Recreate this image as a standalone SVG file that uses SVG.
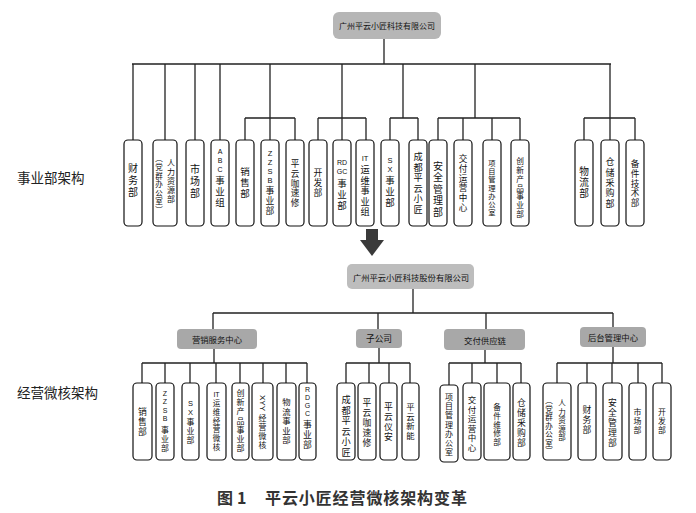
<svg xmlns="http://www.w3.org/2000/svg" width="696" height="513" viewBox="0 0 696 513">
<style>
.bg{fill:#fff}
.box{fill:#fff;stroke:#111;stroke-width:1.2}
.co{fill:#b6b6b6}
.cat{fill:#a8a8a8}
.ln{stroke:#222;stroke-width:1.3;fill:none}
.c{font-family:"Liberation Serif","Noto Sans CJK SC",sans-serif;text-anchor:middle;dominant-baseline:central;font-size:9px;fill:#111}
.lat{font-family:"Liberation Sans",sans-serif;font-size:7px}
.h{font-family:"Noto Sans CJK SC","Noto Sans",sans-serif;text-anchor:middle;dominant-baseline:central;font-size:8.4px;fill:#111}
.lbl{font-family:"Noto Sans CJK SC","Noto Sans",sans-serif;dominant-baseline:central;font-size:13.5px;fill:#222}
.cap{font-family:"Noto Sans CJK SC","Noto Sans",sans-serif;dominant-baseline:central;font-size:16px;font-weight:bold;fill:#333}
</style>
<rect class="bg" x="0" y="0" width="696" height="513"/>

<g id="connectors">
  <path class="ln" d="M384 39V64M132 64H611"/>
  <path class="ln" d="M133 64V140M165 64V140M195 64V140M220 64V140"/>
  <path class="ln" d="M270 64V140M245 118H295M245 118V140M295 118V140"/>
  <path class="ln" d="M342 64V140M318 118H366M318 118V140M366 118V140"/>
  <path class="ln" d="M403 64V118M390 118H418M390 118V140M418 118V140"/>
  <path class="ln" d="M475 64V118M438 118H520M438 118V140M463 118V140M492 118V140M520 118V140"/>
  <path class="ln" d="M610 64V140M584 118H635M584 118V140M635 118V140"/>
  <path class="ln" d="M413 289V313M213 313H613M213 313V329M378 313V329M486 313V329M613 313V327"/>
  <path class="ln" d="M214 349V363M142 363H307M142 363V383M165 363V383M190 363V383M216 363V383M240 363V383M263 363V383M286 363V383M307 363V383"/>
  <path class="ln" d="M379 348V363M346 363H410M346 363V383M369 363V383M389 363V383M410 363V383"/>
  <path class="ln" d="M485 350V363M449 363H521M449 363V385M472 363V383M497 363V383M521 363V383"/>
  <path class="ln" d="M613 347V363M557 363H662M557 363V383M587 363V383M612 363V383M638 363V383M662 363V383"/>
</g>

<g id="arrow">
  <polygon points="366,229 378,229 378,240 384,240 372,256 360,240 366,240" fill="#3a3a3a"/>
</g>

<g id="labels">
  <text class="lbl" x="17" y="177">事业部架构</text>
  <text class="lbl" x="17" y="392">经营微核架构</text>
  <text class="cap" y="497"><tspan x="217">图</tspan> <tspan x="237">1</tspan> <tspan x="265" style="letter-spacing:0.9px">平云小匠经营微核架构变革</tspan></text>
</g>

<g id="company-old">
  <rect class="co" x="333" y="12" width="108" height="27" rx="6"/>
  <text class="h" x="387" y="25.5" style="font-size:8px">广州平云小匠科技有限公司</text>
</g>

<!-- top row -->
<g id="t-caiwu"><rect class="box" x="124" y="140" width="18" height="86" rx="4"/>
<text class="c" style="font-size:10px"><tspan x="133" y="168">财</tspan><tspan x="133" y="180">务</tspan><tspan x="133" y="192">部</tspan></text></g>

<g id="t-renli"><rect class="box" x="153" y="140" width="24" height="86" rx="4"/>
<text class="c" style="font-size:8px"><tspan x="171" y="163">人</tspan><tspan x="171" y="172">力</tspan><tspan x="171" y="181">资</tspan><tspan x="171" y="190">源</tspan><tspan x="171" y="199">部</tspan></text>
<text class="c" style="font-size:7.5px"><tspan x="159" y="158">︵</tspan><tspan x="159" y="167">党</tspan><tspan x="159" y="175.5">群</tspan><tspan x="159" y="184">办</tspan><tspan x="159" y="192.5">公</tspan><tspan x="159" y="201">室</tspan><tspan x="159" y="209.5">︶</tspan></text></g>

<g id="t-shichang"><rect class="box" x="186" y="140" width="18" height="86" rx="4"/>
<text class="c" style="font-size:10px"><tspan x="195" y="169">市</tspan><tspan x="195" y="181">场</tspan><tspan x="195" y="193">部</tspan></text></g>

<g id="t-abc"><rect class="box" x="211" y="140" width="18" height="86" rx="4"/>
<text class="c" style="font-size:9.5px"><tspan class="lat" x="220" y="151">A</tspan><tspan class="lat" x="220" y="160">B</tspan><tspan class="lat" x="220" y="169">C</tspan><tspan x="220" y="181">事</tspan><tspan x="220" y="192">业</tspan><tspan x="220" y="203">组</tspan></text></g>

<g id="t-xiaoshou"><rect class="box" x="236" y="140" width="18" height="86" rx="4"/>
<text class="c" style="font-size:9.5px"><tspan x="245" y="172">销</tspan><tspan x="245" y="183">售</tspan><tspan x="245" y="194">部</tspan></text></g>

<g id="t-zzsb"><rect class="box" x="261" y="140" width="18" height="86" rx="4"/>
<text class="c" style="font-size:8.8px"><tspan class="lat" x="270" y="153" style="font-size:7.5px">Z</tspan><tspan class="lat" x="270" y="162" style="font-size:7.5px">Z</tspan><tspan class="lat" x="270" y="171" style="font-size:7.5px">S</tspan><tspan class="lat" x="270" y="180" style="font-size:7.5px">B</tspan><tspan x="270" y="191">事</tspan><tspan x="270" y="201">业</tspan><tspan x="270" y="211">部</tspan></text></g>

<g id="t-kasuxiu"><rect class="box" x="286" y="140" width="18" height="86" rx="4"/>
<text class="c" style="font-size:8.6px"><tspan x="295" y="164">平</tspan><tspan x="295" y="173.75">云</tspan><tspan x="295" y="183.5">咖</tspan><tspan x="295" y="193.25">速</tspan><tspan x="295" y="203">修</tspan></text></g>

<g id="t-kaifa"><rect class="box" x="309" y="140" width="18" height="86" rx="4"/>
<text class="c" style="font-size:8.8px"><tspan x="318" y="173">开</tspan><tspan x="318" y="183">发</tspan><tspan x="318" y="193">部</tspan></text></g>

<g id="t-rdgc"><rect class="box" x="333" y="140" width="18" height="86" rx="4"/>
<text class="c" style="font-size:9.5px"><tspan class="lat" x="342" y="162">RD</tspan><tspan class="lat" x="342" y="171">GC</tspan><tspan x="342" y="184">事</tspan><tspan x="342" y="195">业</tspan><tspan x="342" y="206">部</tspan></text></g>

<g id="t-it"><rect class="box" x="356" y="140" width="18" height="86" rx="4"/>
<text class="c" style="font-size:9.2px"><tspan class="lat" x="365" y="158" style="font-size:7.5px">IT</tspan><tspan x="365" y="170">运</tspan><tspan x="365" y="180.5">维</tspan><tspan x="365" y="191">事</tspan><tspan x="365" y="201.5">业</tspan><tspan x="365" y="212">组</tspan></text></g>

<g id="t-sx"><rect class="box" x="381" y="140" width="18" height="86" rx="4"/>
<text class="c" style="font-size:9.5px"><tspan class="lat" x="390" y="160" style="font-size:7.5px">S</tspan><tspan class="lat" x="390" y="169" style="font-size:7.5px">X</tspan><tspan x="390" y="181">事</tspan><tspan x="390" y="192">业</tspan><tspan x="390" y="203">部</tspan></text></g>

<g id="t-chengdu"><rect class="box" x="409" y="140" width="18" height="86" rx="4"/>
<text class="c" style="font-size:9.2px"><tspan x="418" y="157">成</tspan><tspan x="418" y="167.5">都</tspan><tspan x="418" y="178">平</tspan><tspan x="418" y="188.5">云</tspan><tspan x="418" y="199">小</tspan><tspan x="418" y="209.5">匠</tspan></text></g>

<g id="t-anquan"><rect class="box" x="429" y="140" width="18" height="86" rx="4"/>
<text class="c" style="font-size:10px"><tspan x="438" y="165.5">安</tspan><tspan x="438" y="177">全</tspan><tspan x="438" y="188.5">管</tspan><tspan x="438" y="200">理</tspan><tspan x="438" y="211.5">部</tspan></text></g>

<g id="t-jiaofu"><rect class="box" x="454" y="140" width="18" height="86" rx="4"/>
<text class="c" style="font-size:8.6px"><tspan x="463" y="159">交</tspan><tspan x="463" y="168.8">付</tspan><tspan x="463" y="178.6">运</tspan><tspan x="463" y="188.4">营</tspan><tspan x="463" y="198.2">中</tspan><tspan x="463" y="208">心</tspan></text></g>

<g id="t-xiangmu"><rect class="box" x="483" y="140" width="18" height="86" rx="4"/>
<text class="c" style="font-size:7.3px"><tspan x="492" y="162.6">项</tspan><tspan x="492" y="170.9">目</tspan><tspan x="492" y="179.2">管</tspan><tspan x="492" y="187.5">理</tspan><tspan x="492" y="195.8">办</tspan><tspan x="492" y="204.1">公</tspan><tspan x="492" y="212.4">室</tspan></text></g>

<g id="t-chuangxin"><rect class="box" x="511" y="140" width="18" height="86" rx="4"/>
<text class="c" style="font-size:7.7px"><tspan x="520" y="161.1">创</tspan><tspan x="520" y="169.9">新</tspan><tspan x="520" y="178.7">产</tspan><tspan x="520" y="187.5">品</tspan><tspan x="520" y="196.3">事</tspan><tspan x="520" y="205.1">业</tspan><tspan x="520" y="213.9">部</tspan></text></g>

<g id="t-wuliu"><rect class="box" x="575" y="140" width="18" height="86" rx="4"/>
<text class="c" style="font-size:9.7px"><tspan x="584" y="171">物</tspan><tspan x="584" y="182">流</tspan><tspan x="584" y="193">部</tspan></text></g>

<g id="t-cangchu"><rect class="box" x="601" y="140" width="18" height="86" rx="4"/>
<text class="c" style="font-size:9px"><tspan x="610" y="162.4">仓</tspan><tspan x="610" y="172.7">储</tspan><tspan x="610" y="183">采</tspan><tspan x="610" y="193.3">购</tspan><tspan x="610" y="203.6">部</tspan></text></g>

<g id="t-beijian"><rect class="box" x="626" y="140" width="18" height="86" rx="4"/>
<text class="c" style="font-size:8.6px"><tspan x="635" y="164">备</tspan><tspan x="635" y="173.75">件</tspan><tspan x="635" y="183.5">技</tspan><tspan x="635" y="193.25">术</tspan><tspan x="635" y="203">部</tspan></text></g>

<!-- bottom company and categories -->
<g id="company-new">
  <rect class="co" x="347" y="264" width="127" height="25" rx="5" style="fill:#bdbdbd"/>
  <text class="h" x="411" y="276.5" style="font-size:8.3px">广州平云小匠科技股份有限公司</text>
</g>
<g id="c-yingxiao"><rect class="cat" x="177" y="329" width="80" height="20" rx="4"/><text class="h" x="217" y="339">营销服务中心</text></g>
<g id="c-zigongsi"><rect class="cat" x="356" y="329" width="46" height="19" rx="4"/><text class="h" x="379" y="338.5" style="font-size:8.7px">子公司</text></g>
<g id="c-jiaofu"><rect class="cat" x="444" y="329" width="81" height="21" rx="4"/><text class="h" x="485" y="339.5">交付供应链</text></g>
<g id="c-houtai"><rect class="cat" x="580" y="327" width="66" height="20" rx="4"/><text class="h" x="613" y="337">后台管理中心</text></g>

<!-- 营销服务中心 -->
<g id="b-xiaoshou"><rect class="box" x="133" y="383" width="19" height="77" rx="4"/>
<text class="c" style="font-size:8.8px"><tspan x="142.5" y="412">销</tspan><tspan x="142.5" y="422">售</tspan><tspan x="142.5" y="432">部</tspan></text></g>

<g id="b-zzsb"><rect class="box" x="156" y="383" width="18" height="77" rx="4"/>
<text class="c" style="font-size:7.9px"><tspan class="lat" x="165" y="393">Z</tspan><tspan class="lat" x="165" y="401.3">Z</tspan><tspan class="lat" x="165" y="409.6">S</tspan><tspan class="lat" x="165" y="418">B</tspan><tspan x="165" y="430">事</tspan><tspan x="165" y="439">业</tspan><tspan x="165" y="448">部</tspan></text></g>

<g id="b-sx"><rect class="box" x="182" y="383" width="17" height="77" rx="4"/>
<text class="c" style="font-size:7.9px"><tspan class="lat" x="190.5" y="403" style="font-size:7.5px">S</tspan><tspan class="lat" x="190.5" y="412" style="font-size:7.5px">X</tspan><tspan x="190.5" y="422">事</tspan><tspan x="190.5" y="431">业</tspan><tspan x="190.5" y="440">部</tspan></text></g>

<g id="b-it"><rect class="box" x="207" y="383" width="19" height="77" rx="4"/>
<text class="c" style="font-size:7.5px"><tspan class="lat" x="216.5" y="394">IT</tspan><tspan x="216.5" y="403">运</tspan><tspan x="216.5" y="411.8">维</tspan><tspan x="216.5" y="420.6">经</tspan><tspan x="216.5" y="429.4">营</tspan><tspan x="216.5" y="438.2">微</tspan><tspan x="216.5" y="447">核</tspan></text></g>

<g id="b-chuangxin"><rect class="box" x="232" y="383" width="17" height="77" rx="4"/>
<text class="c" style="font-size:8px"><tspan x="240.5" y="393">创</tspan><tspan x="240.5" y="402.2">新</tspan><tspan x="240.5" y="411.3">产</tspan><tspan x="240.5" y="420.5">品</tspan><tspan x="240.5" y="429.7">事</tspan><tspan x="240.5" y="438.8">业</tspan><tspan x="240.5" y="448">部</tspan></text></g>

<g id="b-xyy"><rect class="box" x="252" y="383" width="21" height="77" rx="4"/>
<text class="c lat" x="0" y="0" transform="translate(262.5,403) rotate(90)" style="font-size:8px">XYY</text>
<text class="c" style="font-size:7.9px"><tspan x="262.5" y="418">经</tspan><tspan x="262.5" y="427">营</tspan><tspan x="262.5" y="436">微</tspan><tspan x="262.5" y="445">核</tspan></text></g>

<g id="b-wuliu"><rect class="box" x="277" y="383" width="19" height="77" rx="4"/>
<text class="c" style="font-size:8.4px"><tspan x="286.5" y="402">物</tspan><tspan x="286.5" y="411.5">流</tspan><tspan x="286.5" y="421">事</tspan><tspan x="286.5" y="430.5">业</tspan><tspan x="286.5" y="440">部</tspan></text></g>

<g id="b-rdgc"><rect class="box" x="299" y="383" width="17" height="77" rx="4"/>
<text class="c" style="font-size:8.8px"><tspan class="lat" x="307.5" y="389">R</tspan><tspan class="lat" x="307.5" y="397">D</tspan><tspan class="lat" x="307.5" y="405">G</tspan><tspan class="lat" x="307.5" y="413">C</tspan><tspan x="307.5" y="425">事</tspan><tspan x="307.5" y="435">业</tspan><tspan x="307.5" y="445">部</tspan></text></g>

<!-- 子公司 -->
<g id="b-chengdu"><rect class="box" x="337" y="383" width="18" height="77" rx="4"/>
<text class="c" style="font-size:9.2px"><tspan x="346" y="400">成</tspan><tspan x="346" y="410.5">都</tspan><tspan x="346" y="421">平</tspan><tspan x="346" y="431.5">云</tspan><tspan x="346" y="442">小</tspan><tspan x="346" y="452.5">匠</tspan></text></g>

<g id="b-kasuxiu"><rect class="box" x="358" y="383" width="18" height="77" rx="4"/>
<text class="c" style="font-size:8.8px"><tspan x="367" y="403">平</tspan><tspan x="367" y="413">云</tspan><tspan x="367" y="423">咖</tspan><tspan x="367" y="433">速</tspan><tspan x="367" y="443">修</tspan></text></g>

<g id="b-yian"><rect class="box" x="380" y="383" width="17" height="77" rx="4"/>
<text class="c" style="font-size:8.8px"><tspan x="388.5" y="407">平</tspan><tspan x="388.5" y="417">云</tspan><tspan x="388.5" y="427">仪</tspan><tspan x="388.5" y="437">安</tspan></text></g>

<g id="b-xinneng"><rect class="box" x="402" y="383" width="17" height="77" rx="4"/>
<text class="c" style="font-size:8.4px"><tspan x="410.5" y="407">平</tspan><tspan x="410.5" y="416.5">云</tspan><tspan x="410.5" y="426">新</tspan><tspan x="410.5" y="435.5">能</tspan></text></g>

<!-- 交付供应链 -->
<g id="b-xiangmu"><rect class="box" x="440" y="385" width="18" height="77" rx="4"/>
<text class="c" style="font-size:8px"><tspan x="449" y="397">项</tspan><tspan x="449" y="406.2">目</tspan><tspan x="449" y="415.3">管</tspan><tspan x="449" y="424.5">理</tspan><tspan x="449" y="433.7">办</tspan><tspan x="449" y="442.8">公</tspan><tspan x="449" y="452">室</tspan></text></g>

<g id="b-jiaofu"><rect class="box" x="463" y="383" width="18" height="77" rx="4"/>
<text class="c" style="font-size:8.5px"><tspan x="472" y="400">交</tspan><tspan x="472" y="409.6">付</tspan><tspan x="472" y="419.2">运</tspan><tspan x="472" y="428.8">营</tspan><tspan x="472" y="438.4">中</tspan><tspan x="472" y="448">心</tspan></text></g>

<g id="b-weixiu"><rect class="box" x="484" y="383" width="26" height="77" rx="4"/>
<text class="c" style="font-size:7.7px"><tspan x="497" y="407">备</tspan><tspan x="497" y="415.75">件</tspan><tspan x="497" y="424.5">维</tspan><tspan x="497" y="433.25">修</tspan><tspan x="497" y="442">部</tspan></text></g>

<g id="b-cangchu"><rect class="box" x="513" y="383" width="17" height="77" rx="4"/>
<text class="c" style="font-size:8.8px"><tspan x="521.5" y="403">仓</tspan><tspan x="521.5" y="413">储</tspan><tspan x="521.5" y="423">采</tspan><tspan x="521.5" y="433">购</tspan><tspan x="521.5" y="443">部</tspan></text></g>

<!-- 后台管理中心 -->
<g id="b-renli"><rect class="box" x="543" y="383" width="28" height="77" rx="4"/>
<text class="c" style="font-size:7.5px"><tspan x="562" y="403">人</tspan><tspan x="562" y="411.5">力</tspan><tspan x="562" y="420">资</tspan><tspan x="562" y="428.5">源</tspan><tspan x="562" y="437">部</tspan></text>
<text class="c" style="font-size:7.5px"><tspan x="549" y="400">︵</tspan><tspan x="549" y="408.5">党</tspan><tspan x="549" y="417">群</tspan><tspan x="549" y="425.5">办</tspan><tspan x="549" y="434">公</tspan><tspan x="549" y="442.5">室</tspan><tspan x="549" y="451">︶</tspan></text></g>

<g id="b-caiwu"><rect class="box" x="578" y="383" width="18" height="77" rx="4"/>
<text class="c" style="font-size:8.8px"><tspan x="587" y="410">财</tspan><tspan x="587" y="420">务</tspan><tspan x="587" y="430">部</tspan></text></g>

<g id="b-anquan"><rect class="box" x="603" y="383" width="19" height="77" rx="4"/>
<text class="c" style="font-size:8.8px"><tspan x="612.5" y="403">安</tspan><tspan x="612.5" y="413">全</tspan><tspan x="612.5" y="423">管</tspan><tspan x="612.5" y="433">理</tspan><tspan x="612.5" y="443">部</tspan></text></g>

<g id="b-shichang"><rect class="box" x="629" y="383" width="17" height="77" rx="4"/>
<text class="c" style="font-size:7.9px"><tspan x="637.5" y="412">市</tspan><tspan x="637.5" y="421">场</tspan><tspan x="637.5" y="430">部</tspan></text></g>

<g id="b-kaifa"><rect class="box" x="653" y="383" width="18" height="77" rx="4"/>
<text class="c" style="font-size:7.9px"><tspan x="662" y="412">开</tspan><tspan x="662" y="421">发</tspan><tspan x="662" y="430">部</tspan></text></g>
</svg>
